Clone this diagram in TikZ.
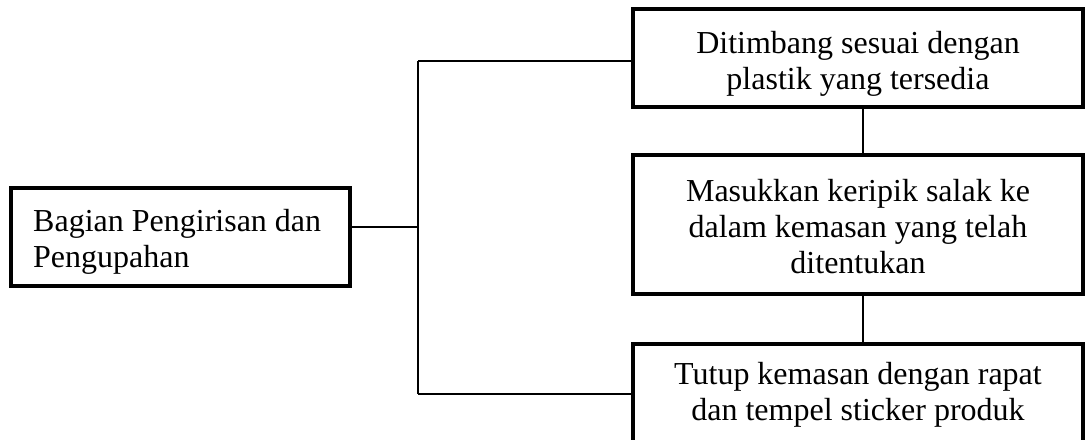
\documentclass[tikz,border=0pt]{standalone}
\usepackage{fontspec}
\setmainfont{Liberation Serif}
\begin{document}
\begin{tikzpicture}[x=1pt,y=-1pt,
  stepbox/.style={draw=black, line width=4.5pt, minimum width=450pt, inner sep=0pt},
  steptext/.style={inner sep=0pt, align=center, font=\fontsize{32}{36}\selectfont},
  conn/.style={draw=black, line width=1.6pt}]
\useasboundingbox (0,0) rectangle (1086,439);
% boxes
\node[stepbox, minimum width=339pt, minimum height=98pt] (left) at (180.5,237) {};
\node[stepbox, minimum height=98pt] (top) at (858,58) {};
\node[stepbox, minimum height=139pt] (mid) at (858,224.5) {};
\node[stepbox, minimum height=112pt] (bot) at (858,400) {};
% texts
\node[steptext, align=left, anchor=west] (lefttext) at (33,242)
  {Bagian Pengirisan dan\\Pengupahan};
\node[steptext] (toptext) at (858,63.5)
  {Ditimbang sesuai dengan\\plastik yang tersedia};
\node[steptext] (midtext) at (858,226.5)
  {Masukkan keripik salak ke\\dalam kemasan yang telah\\ditentukan};
\node[steptext] (bottext) at (858,394.5)
  {Tutup kemasan dengan rapat\\dan tempel sticker produk};
% connectors
\coordinate (j) at (418,227);
\coordinate (jt) at (418,61);
\coordinate (jb) at (418,394);
\draw[conn] (left.east |- j) -- (j);
\draw[conn] (jt) -- (jb);
\draw[conn] (jt) -- (top.west |- jt);
\draw[conn] (jb) -- (bot.west |- jb);
\draw[conn] ([xshift=5pt]top.south) -- ([xshift=5pt]mid.north);
\draw[conn] ([xshift=5pt]mid.south) -- ([xshift=5pt]bot.north);
\end{tikzpicture}
\end{document}
